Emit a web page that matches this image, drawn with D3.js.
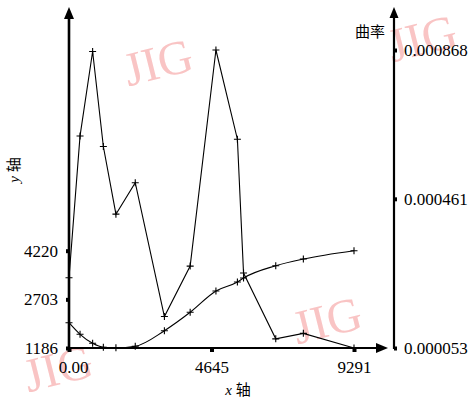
<!DOCTYPE html>
<html>
<head>
<meta charset="utf-8">
<script src="https://cdn.jsdelivr.net/npm/d3@7"></script>
<style>
  html, body { margin: 0; padding: 0; background: #fff; }
  svg { display: block; }
  .num { font-family: "Liberation Serif", "DejaVu Serif", serif; font-size: 17px; fill: #000; }
  .cjk { font-family: "Noto Sans CJK SC", sans-serif; fill: #000; }
</style>
</head>
<body>
<svg id="chart" width="469" height="402"></svg>
<script>
// Sample positions along the x axis
const xValues = [0, 360, 770, 1120, 1530, 2160, 3110, 3950, 4790, 5490, 5690, 6740, 7640, 9291];
// y coordinate of the fitted curve (left axis)
const yValues = [1975, 1613, 1333, 1208, 1190, 1240, 1725, 2299, 2963, 3244, 3369, 3752, 3961, 4220];
// curvature at each sample (right axis)
const curvatureValues = [0.000245, 0.000633, 0.000864, 0.000604, 0.000419, 0.000505, 0.000139,
                         0.000277, 0.000868, 0.000624, 0.000258, 0.000078, 0.000093, 0.000053];
// tick values
const xTicks = [0, 4645, 9291];
const yTicks = [1186, 2703, 4220];
const curvatureTicks = [0.000053, 0.000461, 0.000868];
const xTickLabels = ["0.00", "4645", "9291"];
const yTickLabels = ["1186", "2703", "4220"];
const curvatureTickLabels = ["0.000053", "0.000461", "0.000868"];
// watermark placements
const marks = [[158, 62], [422, 38], [327, 320], [58, 368]];

const svg = d3.select("#chart");

const x = d3.scaleLinear().domain([0, 9291]).range([69, 354]);
const yL = d3.scaleLinear().domain([1186, 4220]).range([348, 250.7]);
const yR = d3.scaleLinear().domain([0.000053, 0.000868]).range([348, 50]);

// watermark
svg.append("g").selectAll("text").data(marks).join("text")
  .attr("transform", d => `translate(${d[0]},${d[1]}) rotate(-14)`)
  .attr("text-anchor", "middle")
  .attr("dominant-baseline", "central")
  .attr("font-family", "Liberation Serif, serif")
  .attr("font-size", 48)
  .attr("fill", "#f9c4c4")
  .text("JIG");

// axis lines with arrow heads
const axes = svg.append("g");
axes.append("line").attr("x1", 69).attr("x2", 69).attr("y1", 349).attr("y2", 16)
  .attr("stroke", "#000").attr("stroke-width", 2.6);
axes.append("path").attr("d", "M69,7L64,19L74,19Z").attr("fill", "#000");
axes.append("line").attr("x1", 394).attr("x2", 394).attr("y1", 349).attr("y2", 16)
  .attr("stroke", "#000").attr("stroke-width", 2.2);
axes.append("path").attr("d", "M394,7L389.5,18L398.5,18Z").attr("fill", "#000");
axes.append("line").attr("x1", 68).attr("x2", 380).attr("y1", 348).attr("y2", 348)
  .attr("stroke", "#000").attr("stroke-width", 2.2);
axes.append("path").attr("d", "M388,348L376,343L376,353Z").attr("fill", "#000");

// left axis ticks
const gL = svg.append("g").attr("transform", "translate(69,0)")
  .call(d3.axisLeft(yL).tickValues(yTicks).tickSize(3).tickPadding(8)
    .tickFormat((d, i) => yTickLabels[i]));
gL.select(".domain").remove();
gL.selectAll(".tick line").attr("stroke-width", 4);
gL.selectAll(".tick text").attr("class", "num").attr("font-size", null).attr("font-family", null);

// right axis ticks
const gR = svg.append("g").attr("transform", "translate(394,0)")
  .call(d3.axisRight(yR).tickValues(curvatureTicks).tickSize(3).tickPadding(7)
    .tickFormat((d, i) => curvatureTickLabels[i]));
gR.select(".domain").remove();
gR.selectAll(".tick line").attr("stroke-width", 4);
gR.selectAll(".tick text").attr("class", "num").attr("font-size", null).attr("font-family", null);

// bottom axis ticks
const gB = svg.append("g").attr("transform", "translate(0,348)")
  .call(d3.axisBottom(x).tickValues(xTicks).tickSize(4).tickPadding(9)
    .tickFormat((d, i) => xTickLabels[i]));
gB.select(".domain").remove();
gB.selectAll(".tick line").attr("stroke-width", 4);
gB.selectAll(".tick text").attr("class", "num").attr("font-size", null).attr("font-family", null);
gB.selectAll(".tick text").filter((d, i) => i === 0).attr("dx", 4);

// axis titles
const yTitle = svg.append("text").attr("transform", "translate(19,170) rotate(-90)")
  .attr("text-anchor", "middle").attr("font-size", 15);
yTitle.append("tspan").attr("font-family", "Liberation Serif, serif").attr("font-style", "italic").text("y ");
yTitle.append("tspan").attr("class", "cjk").text("轴");

const xTitle = svg.append("text").attr("x", 238).attr("y", 395)
  .attr("text-anchor", "middle").attr("font-size", 15);
xTitle.append("tspan").attr("font-family", "Liberation Serif, serif").attr("font-style", "italic").text("x ");
xTitle.append("tspan").attr("class", "cjk").text("轴");

svg.append("text").attr("class", "cjk").attr("x", 385).attr("y", 37)
  .attr("text-anchor", "end").attr("font-size", 15).text("曲率");

// series
const cross = "M-3.5,0H3.5M0,-3.5V3.5";

const yLine = d3.line().x((d, i) => x(xValues[i])).y(d => yL(d)).curve(d3.curveMonotoneX);
svg.append("path").datum(yValues).attr("d", yLine)
  .attr("fill", "none").attr("stroke", "#000").attr("stroke-width", 1.1);
svg.append("g").selectAll("path").data(yValues).join("path")
  .attr("transform", (d, i) => `translate(${x(xValues[i])},${yL(d)})`)
  .attr("d", cross).attr("stroke", "#000").attr("stroke-width", 1.1);

const cLine = d3.line().x((d, i) => x(xValues[i])).y(d => yR(d));
svg.append("path").datum(curvatureValues).attr("d", cLine)
  .attr("fill", "none").attr("stroke", "#000").attr("stroke-width", 1.1);
svg.append("g").selectAll("path").data(curvatureValues).join("path")
  .attr("transform", (d, i) => `translate(${x(xValues[i])},${yR(d)})`)
  .attr("d", cross).attr("stroke", "#000").attr("stroke-width", 1.1);
</script>
</body>
</html>
